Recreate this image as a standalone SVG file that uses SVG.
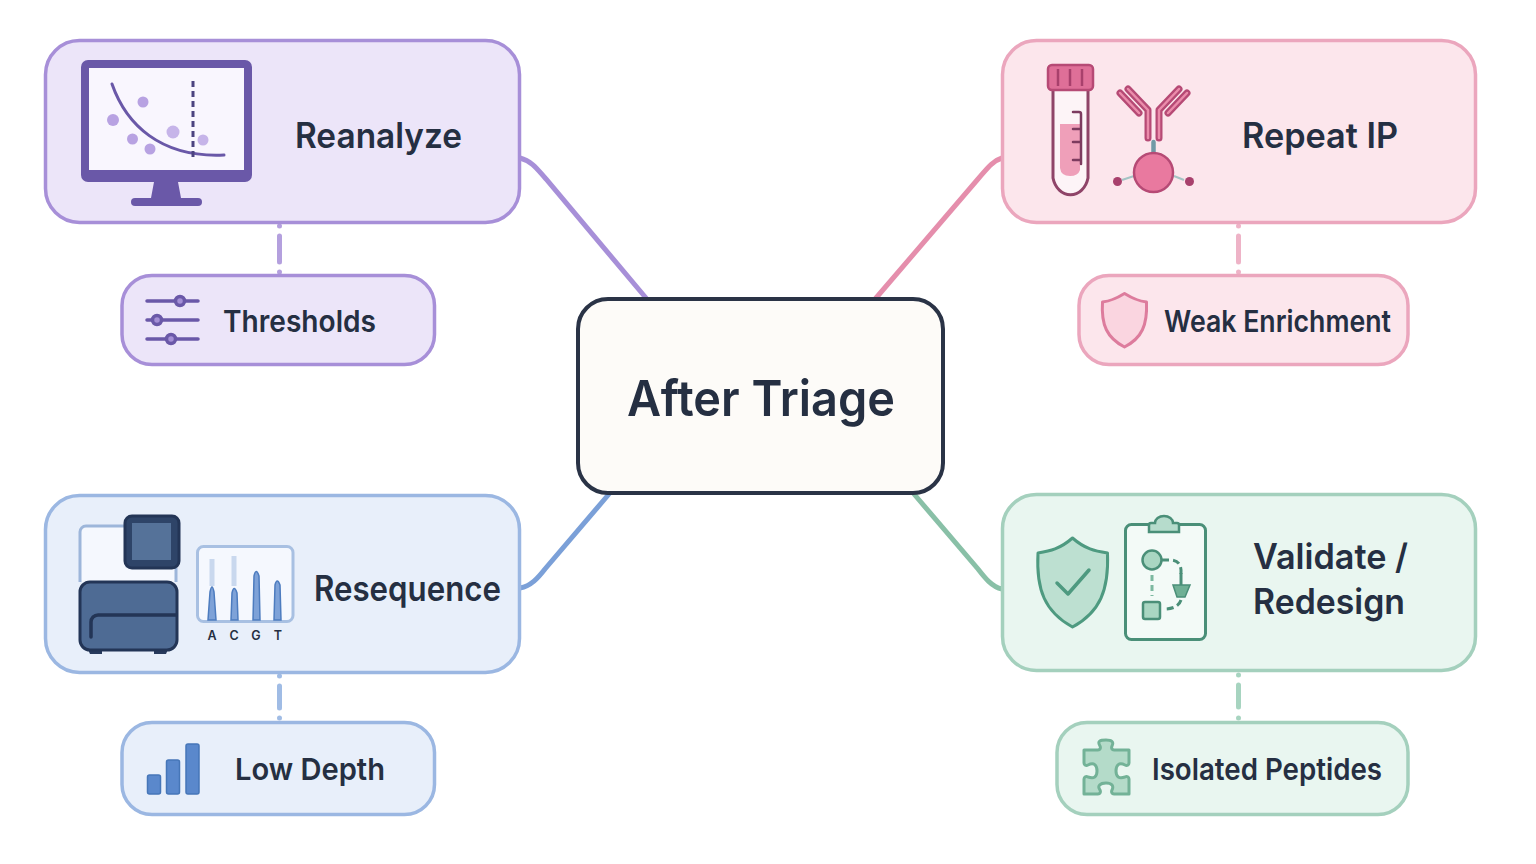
<svg xmlns="http://www.w3.org/2000/svg" width="1536" height="864" viewBox="0 0 1536 864">
<style>
text{font-family:"Inter","Noto Sans","Liberation Sans",sans-serif;fill:#252f42;font-weight:600;text-anchor:start}
.m{font-size:35px}.s{font-size:30.500px}
.card{stroke-width:3.500}
.conn{fill:none;stroke-width:5;stroke-linecap:round}
.dash{fill:none;stroke-width:5;stroke-linecap:round;opacity:.85}
.p{stroke:#a78fd8;fill:#ece5f9}.r{stroke:#eba6bd;fill:#fce6ec}.b{stroke:#9bb7e2;fill:#e8effa}.g{stroke:#a4d0bd;fill:#e9f6f0}
</style>
<rect width="1536" height="864" fill="#fff"/>
<g id="connectors">
<path class="conn" stroke="#a78fd8" d="M520 158C532 161 538 170 546 179L646 298"/>
<path class="conn" stroke="#e58eac" d="M1002 158C992 161 986 170 978 179L876 298"/>
<path class="conn" stroke="#7ba0d8" d="M520 588C531 586 538 578 545 569L609 494"/>
<path class="conn" stroke="#89c0a7" d="M1002 589C992 587 985 578 978 569L914 494"/>
<path stroke="#a78fd8" d="M279.500 226V226M279.500 236V262M279.500 272V272" class="dash"/>
<path stroke="#eba6bd" d="M1238.500 226V226M1238.500 236V262M1238.500 272V272" class="dash"/>
<path stroke="#8fb0e0" d="M279.500 676V676M279.500 686V708M279.500 718V718" class="dash"/>
<path stroke="#98ccb5" d="M1238.500 675V675M1238.500 685V707M1238.500 718V718" class="dash"/>
</g>
<g id="center"><rect x="578" y="299" width="365" height="194" rx="30" fill="#fdfbf8" stroke="#2a3346" stroke-width="4"/><text x="627" y="416" font-size="50" textLength="268" lengthAdjust="spacingAndGlyphs">After Triage</text></g>
<g id="reanalyze">
<rect class="card p" x="45.500" y="40.500" width="474" height="182" rx="34"/>
<rect x="81" y="60" width="171" height="122" rx="7" fill="#6a58a8"/><rect x="89" y="68" width="155" height="102" fill="#f9f6fe"/>
<path d="M154 182h24l3 16h-30z" fill="#6a58a8"/><rect x="131" y="198" width="71" height="8" rx="4" fill="#6a58a8"/>
<g fill="#b8a2e2"><circle cx="143" cy="102" r="5.500"/><circle cx="113" cy="120" r="6"/><circle cx="132.500" cy="139" r="5.500"/><circle cx="150" cy="149" r="5.500"/><circle cx="173" cy="132" r="6.500" fill="#c6b4e9"/><circle cx="203" cy="140" r="5.500" fill="#c6b4e9"/></g>
<path d="M112 84C126 124 160 158 224 155" fill="none" stroke="#6a58a8" stroke-width="3" stroke-linecap="round"/>
<path d="M193 81V158" stroke="#4c4380" stroke-width="3" stroke-dasharray="6 4"/>
<text class="m" x="295" y="148" textLength="167" lengthAdjust="spacingAndGlyphs">Reanalyze</text>
</g>
<g id="thresholds">
<rect class="card p" x="122" y="275.500" width="312.500" height="89" rx="30"/>
<g stroke="#6a58a8" stroke-width="3.500" stroke-linecap="round" fill="#a48fd6"><path d="M147 301H198M147 320H198M147 339H198" fill="none"/><circle cx="180" cy="301" r="4.500"/><circle cx="157" cy="320" r="4.500"/><circle cx="171" cy="339" r="4.500"/></g>
<text class="s" x="223" y="332" textLength="153" lengthAdjust="spacingAndGlyphs">Thresholds</text>
</g>
<g id="repeat-ip">
<rect class="card r" x="1002.500" y="40.500" width="473" height="182" rx="34"/>
<path d="M1053 90V178a18 22 0 0 0 35 0V90" fill="#fdf4f7" stroke="#8f4468" stroke-width="3"/>
<rect x="1048" y="65" width="45" height="25" rx="4" fill="#df6f98" stroke="#b64a75" stroke-width="2.500"/>
<path d="M1058 69V86M1070 69V86M1082 69V86" stroke="#a8406c" stroke-width="2.500"/>
<path d="M1060 124h20v46q-2 6 -10 6q-9 0 -10 -8z" fill="#ef9fb9"/>
<path d="M1073 112h6a2 2 0 0 1 2 2v50M1073 129h7M1073 142h7M1073 160h7" fill="none" stroke="#7d3b5f" stroke-width="2.500" stroke-linecap="round"/>
<g fill="none" stroke="#b64a75" stroke-width="7" stroke-linecap="round" stroke-linejoin="round"><path d="M1148 138V110L1128 89M1159 138V110L1179 89M1120 93L1139 113M1187 93L1168 113"/></g>
<g fill="none" stroke="#eb8cab" stroke-width="2.500" stroke-linecap="round" stroke-linejoin="round"><path d="M1148 138V110L1128 89M1159 138V110L1179 89M1120 93L1139 113M1187 93L1168 113"/></g>
<path d="M1153.500 142V154" stroke="#6f9aa6" stroke-width="4.500" stroke-linecap="round"/>
<path d="M1122 180L1134 176M1174 176L1184 180" stroke="#a4c4c4" stroke-width="2"/>
<circle cx="1153.500" cy="172.500" r="19.500" fill="#e9799f" stroke="#b64a75" stroke-width="2.500"/>
<circle cx="1117.500" cy="181.500" r="4.500" fill="#a8406c"/><circle cx="1189.500" cy="181.500" r="4.500" fill="#a8406c"/>
<text class="m" x="1242" y="148" textLength="156" lengthAdjust="spacingAndGlyphs">Repeat IP</text>
</g>
<g id="weak-enrichment">
<rect class="card r" x="1079" y="275.500" width="329" height="89" rx="30"/>
<path d="M1124.500 293.500C1114 300 1109 301 1102.500 302C1101 325 1107 338 1124.500 347C1142 338 1147.500 325 1146.500 302C1140 301 1135 300 1124.500 293.500Z" fill="#fad5e0" stroke="#dd7c9d" stroke-width="3" stroke-linejoin="round"/>
<text class="s" x="1164" y="332" textLength="227" lengthAdjust="spacingAndGlyphs">Weak Enrichment</text>
</g>
<g id="resequence">
<rect class="card b" x="45.500" y="495.500" width="474" height="177" rx="34"/>
<rect x="81" y="526" width="44" height="56" fill="#f5f8fe"/><rect x="125" y="568" width="51" height="14" fill="#f5f8fe"/>
<path d="M125 526H86a6 6 0 0 0 -6 6V582M176 568V582" fill="none" stroke="#9db6da" stroke-width="3"/>
<path d="M86 645h16v9h-12zM154 645h16l-4 9h-12z" fill="#283a5c"/>
<rect x="80" y="582" width="97" height="68" rx="10" fill="#4e6b94" stroke="#233556" stroke-width="3"/>
<path d="M176 615H98a7 7 0 0 0 -7 7V637" fill="none" stroke="#233556" stroke-width="3.500" stroke-linecap="round"/>
<rect x="125" y="516" width="54" height="52" rx="7" fill="#2e4468" stroke="#233556" stroke-width="3"/><rect x="132" y="523" width="39" height="37" fill="#557299"/>
<rect x="197.500" y="546.500" width="95.500" height="75" rx="6" fill="#f5f8fe" stroke="#a8c0e2" stroke-width="3"/>
<path d="M212 559V586M234 556V586" stroke="#c9d8ee" stroke-width="5"/>
<g fill="#7ea2d8" stroke="#4d7cbf" stroke-width="1.500"><path d="M208 620L210 592Q212 582 214 592L216 620Z"/><path d="M231 620L232 593Q234 584 237 593L238 620Z"/><path d="M253 620L254 576Q256 567 259 576L260 620Z"/><path d="M274 620L275 585Q277 577 280 585L281 620Z"/></g>
<g style="font-size:12.500px;font-weight:500;text-anchor:middle"><text x="212" y="640" style="text-anchor:middle">A</text><text x="234" y="640" style="text-anchor:middle">C</text><text x="256" y="640" style="text-anchor:middle">G</text><text x="278" y="640" style="text-anchor:middle">T</text></g>
<text class="m" x="314" y="601" textLength="187" lengthAdjust="spacingAndGlyphs">Resequence</text>
</g>
<g id="low-depth">
<rect class="card b" x="122" y="722.500" width="312.500" height="92" rx="30"/>
<g fill="#5a88cc" stroke="#4676b8" stroke-width="1.500"><rect x="147.500" y="775" width="13" height="19" rx="2"/><rect x="166.500" y="760" width="13" height="34" rx="2"/><rect x="186" y="744" width="13" height="50" rx="2"/></g>
<text class="s" x="235" y="780" textLength="150" lengthAdjust="spacingAndGlyphs">Low Depth</text>
</g>
<g id="validate">
<rect class="card g" x="1002.500" y="494.500" width="473" height="176" rx="34"/>
<path d="M1072.500 538C1060 549 1050 551 1038 553C1036 590 1045 612 1072.500 627C1100 612 1109 590 1107.500 553C1095 551 1085 549 1072.500 538Z" fill="#bde0d1" stroke="#4e9a80" stroke-width="3" stroke-linejoin="round"/>
<path d="M1057 583L1068 594L1089 570" fill="none" stroke="#4e9a80" stroke-width="3.500" stroke-linecap="round" stroke-linejoin="round"/>
<rect x="1125.500" y="524.500" width="80" height="115" rx="6" fill="#f3faf7" stroke="#4a8f78" stroke-width="3"/>
<path d="M1150 532V525a2 2 0 0 1 2 -2h4a9 7 0 0 1 18 0h4a2 2 0 0 1 2 2v7z" fill="#b6dccc" stroke="#4a8f78" stroke-width="2.500" transform="translate(-1 0)"/>
<circle cx="1152" cy="560" r="9.500" fill="#a9d6c2" stroke="#4a8f78" stroke-width="2.500"/>
<rect x="1143" y="602" width="17" height="17" rx="2" fill="#a9d6c2" stroke="#4a8f78" stroke-width="2.500"/>
<path d="M1152 575V596" stroke="#7cb8a0" stroke-width="3" stroke-dasharray="6 4"/>
<path d="M1162 560H1172Q1182 561 1181 574M1181 600Q1178 609 1164 609" fill="none" stroke="#4a8f78" stroke-width="3" stroke-dasharray="7 4"/>
<path d="M1181 573V586" stroke="#4a8f78" stroke-width="3"/><path d="M1173 585H1190L1185 597H1177Z" fill="#6fb095" stroke="#4a8f78" stroke-width="1.500"/>
<text class="m" x="1253" y="569" textLength="155" lengthAdjust="spacingAndGlyphs">Validate /</text><text class="m" x="1253" y="614" textLength="152" lengthAdjust="spacingAndGlyphs">Redesign</text>
</g>
<g id="isolated-peptides">
<rect class="card g" x="1057" y="722.500" width="351" height="92" rx="30"/>
<path d="M1084 750H1098C1100 750 1101 748 1100 746C1097 741 1100 740 1106 740C1112 740 1114 742 1112 746C1111 748 1112 750 1114 750H1129V763C1129 765 1127 766 1125 765C1119 762 1116 765 1116 771C1116 777 1119 779 1125 777C1127 776 1129 777 1129 779V794H1114C1112 794 1111 792 1112 790C1114 786 1112 783 1106 783C1100 783 1097 786 1100 790C1101 792 1100 794 1098 794H1084V779C1084 777 1086 776 1088 777C1094 779 1097 777 1097 771C1097 765 1094 762 1088 765C1086 766 1084 765 1084 763Z" fill="#b4dbc9" stroke="#73b297" stroke-width="3" stroke-linejoin="round"/>
<text class="s" x="1152" y="780" textLength="230" lengthAdjust="spacingAndGlyphs">Isolated Peptides</text>
</g>
</svg>
